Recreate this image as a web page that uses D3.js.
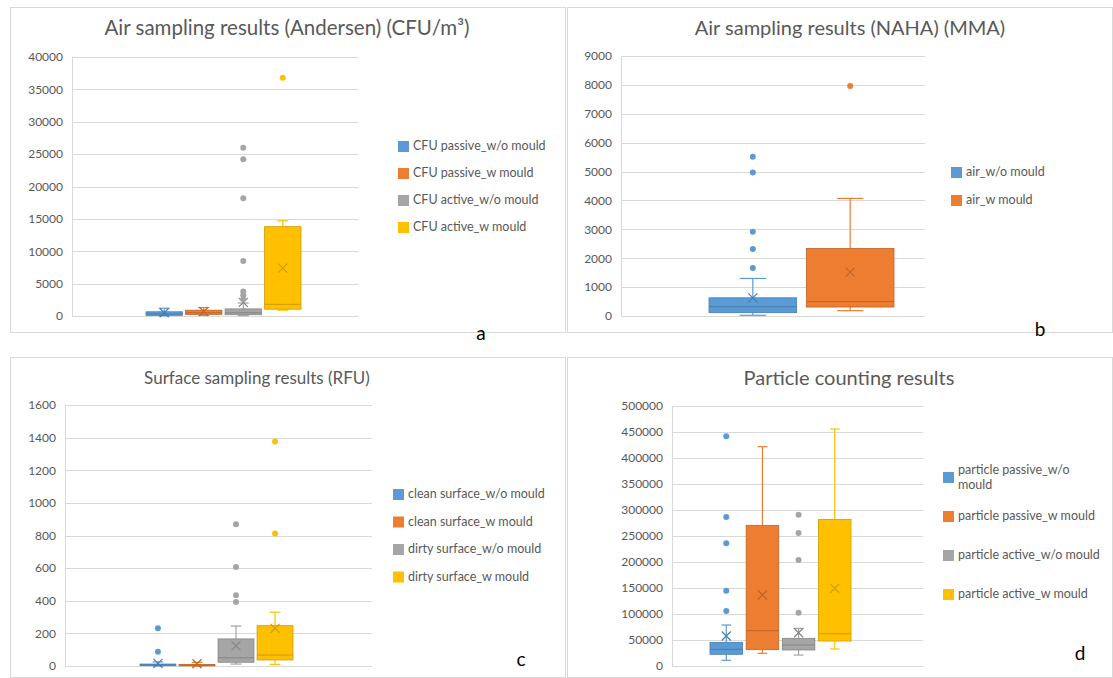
<!DOCTYPE html>
<html>
<head>
<meta charset="utf-8">
<script src="https://cdn.jsdelivr.net/npm/d3@7"></script>
<style>
  body { margin: 0; background: #fff; }
  svg { display: block; font-family: Lato, "Open Sans", sans-serif; }
</style>
</head>
<body>
<svg id="chart" width="1113" height="678"></svg>
<script>
// stats per series: [min, q1, median, q3, max, mean]

// a - Andersen
const andersenNames = ['CFU passive_w/o mould', 'CFU passive_w mould', 'CFU active_w/o mould', 'CFU active_w mould'];
const andersenStats = [
  [50, 100, 300, 650, 1200, 500],
  [100, 250, 500, 900, 1300, 700],
  [50, 200, 500, 1100, 2000, 2100],
  [900, 1050, 1800, 13800, 14700, 7400]
];
const andersenOutliers = [[], [], [2600, 3200, 3800, 8500, 18200, 24200, 26000], [36800]];
const andersenTicks = d3.range(0, 40001, 5000);

// b - NAHA
const nahaNames = ['air_w/o mould', 'air_w mould'];
const nahaStats = [
  [25, 115, 320, 630, 1300, 630],
  [185, 310, 500, 2340, 4070, 1520]
];
const nahaOutliers = [[1660, 2320, 2920, 4970, 5510], [7960]];
const nahaTicks = d3.range(0, 9001, 1000);

// c - surface
const surfaceNames = ['clean surface_w/o mould', 'clean surface_w mould', 'dirty surface_w/o mould', 'dirty surface_w mould'];
const surfaceStats = [
  [0, 2, 6, 12, 25, 16],
  [0, 2, 5, 10, 22, 14],
  [12, 23, 50, 166, 245, 123],
  [10, 37, 67, 247, 330, 231]
];
const surfaceOutliers = [[88, 231], [], [393, 434, 607, 869], [812, 1376]];
const surfaceTicks = d3.range(0, 1601, 200);

// d - particles
const particleNames = ['particle passive_w/o mould', 'particle passive_w mould', 'particle active_w/o mould', 'particle active_w mould'];
const particleStats = [
  [11000, 22500, 32000, 45500, 78800, 57700],
  [24400, 31400, 68000, 270500, 421800, 136500],
  [21000, 30800, 40400, 53200, 72400, 64000],
  [32700, 48000, 62000, 282000, 455800, 149400]
];
const particleOutliers = [[105800, 144800, 236000, 286500, 442000], [], [102600, 203800, 255800, 291000], []];
const particleTicks = d3.range(0, 500001, 50000);

const colors = ['#5B9BD5', '#ED7D31', '#A5A5A5', '#FFC000'];
const textColor = '#595959';
const gridColor = '#D9D9D9';

const svg = d3.select('#chart');

const panels = [
  {
    title: 'Air sampling results (Andersen) (CFU/m\u00B3)', letter: 'a',
    names: andersenNames, stats: andersenStats, outliers: andersenOutliers, ticks: andersenTicks,
    frame: [10, 7, 556, 326], plot: [72, 57, 358, 316], boxes: [146, 301], pad: 0.08,
    legend: {x: 398, y: 146, step: 27}, letterPos: [481, 340], titleX: 287, titleY: 35, titleSize: 20.5
  },
  {
    title: 'Air sampling results (NAHA) (MMA)', letter: 'b',
    names: nahaNames, stats: nahaStats, outliers: nahaOutliers, ticks: nahaTicks,
    frame: [567, 7, 546, 326], plot: [621, 56, 925, 316], boxes: [709, 894], pad: 0.1,
    legend: {x: 951, y: 172, step: 28}, letterPos: [1040, 336], titleX: 850, titleY: 35, titleSize: 20
  },
  {
    title: 'Surface sampling results (RFU)', letter: 'c',
    names: surfaceNames, stats: surfaceStats, outliers: surfaceOutliers, ticks: surfaceTicks,
    frame: [10, 357, 556, 321], plot: [65, 405, 372, 666], boxes: [140, 293], pad: 0.08,
    legend: {x: 393, y: 494, step: 27.5}, letterPos: [521, 666], titleX: 257, titleY: 384, titleSize: 17
  },
  {
    title: 'Particle counting results', letter: 'd',
    names: particleNames, stats: particleStats, outliers: particleOutliers, ticks: particleTicks,
    frame: [567, 357, 546, 321], plot: [672, 406, 923, 666], boxes: [710, 851], pad: 0.1,
    legend: {x: 943, y: 477, step: 39}, letterPos: [1080, 660], titleX: 849, titleY: 385, titleSize: 20
  }
];

panels.forEach(p => drawPanel(p));

function drawPanel(p) {
  const g = svg.append('g');
  const [fx, fy, fw, fh] = p.frame;
  const [px0, py0, px1, py1] = p.plot;

  g.append('rect')
    .attr('x', fx + 0.5).attr('y', fy + 0.5)
    .attr('width', fw - 1).attr('height', fh - 1)
    .attr('fill', '#fff')
    .attr('stroke', gridColor);

  g.append('text')
    .attr('x', p.titleX)
    .attr('y', p.titleY)
    .attr('text-anchor', 'middle')
    .attr('fill', textColor)
    .style('font-size', p.titleSize + 'px')
    .text(p.title);

  const yScale = d3.scaleLinear()
    .domain([0, p.ticks[p.ticks.length - 1]])
    .range([py1, py0]);

  const xScale = d3.scaleBand()
    .domain(p.names)
    .range(p.boxes)
    .paddingInner(p.pad);

  // gridlines
  g.append('g')
    .selectAll('line')
    .data(p.ticks)
    .join('line')
    .attr('x1', px0).attr('x2', px1)
    .attr('y1', d => Math.round(yScale(d)) + 0.5)
    .attr('y2', d => Math.round(yScale(d)) + 0.5)
    .attr('stroke', gridColor);

  g.append('line')
    .attr('x1', px0 + 0.5).attr('x2', px0 + 0.5)
    .attr('y1', py0).attr('y2', py1)
    .attr('stroke', gridColor);

  // y axis labels
  const yAxis = d3.axisLeft(yScale)
    .tickValues(p.ticks)
    .tickFormat(d3.format('d'))
    .tickSize(0)
    .tickPadding(9);
  const axisG = g.append('g')
    .attr('transform', `translate(${px0},0)`)
    .call(yAxis);
  axisG.select('.domain').remove();
  axisG.selectAll('text')
    .attr('fill', textColor)
    .style('font-size', '12px')
    .style('font-family', 'Lato, "Open Sans", sans-serif');

  // boxes
  const bw = xScale.bandwidth();
  p.names.forEach((name, i) => {
    const [mn, q1, med, q3, mx, mean] = p.stats[i];
    const c = colors[i];
    const dark = d3.rgb(c).darker(0.6);
    const x = xScale(name);
    const cx = x + bw / 2;
    const cap = bw * 0.3;
    const bg = g.append('g');

    bg.append('line')
      .attr('x1', cx).attr('x2', cx)
      .attr('y1', yScale(mx)).attr('y2', yScale(q3))
      .attr('stroke', c).attr('stroke-width', 1.2);
    bg.append('line')
      .attr('x1', cx).attr('x2', cx)
      .attr('y1', yScale(q1)).attr('y2', yScale(mn))
      .attr('stroke', c).attr('stroke-width', 1.2);
    [mn, mx].forEach(v => {
      bg.append('line')
        .attr('x1', cx - cap / 2).attr('x2', cx + cap / 2)
        .attr('y1', yScale(v)).attr('y2', yScale(v))
        .attr('stroke', c).attr('stroke-width', 1.2);
    });

    bg.append('rect')
      .attr('x', x)
      .attr('y', yScale(q3))
      .attr('width', bw)
      .attr('height', Math.max(1.5, yScale(q1) - yScale(q3)))
      .attr('fill', c)
      .attr('stroke', dark)
      .attr('stroke-width', 0.8);

    bg.append('line')
      .attr('x1', x).attr('x2', x + bw)
      .attr('y1', yScale(med)).attr('y2', yScale(med))
      .attr('stroke', dark).attr('stroke-width', 1);

    // mean X
    const my = yScale(mean);
    const s = 4.5;
    bg.append('path')
      .attr('d', `M${cx - s},${my - s}L${cx + s},${my + s}M${cx - s},${my + s}L${cx + s},${my - s}`)
      .attr('stroke', dark).attr('stroke-width', 1.2).attr('fill', 'none');

    bg.selectAll('circle')
      .data(p.outliers[i])
      .join('circle')
      .attr('cx', cx)
      .attr('cy', d => yScale(d))
      .attr('r', 3)
      .attr('fill', c);
  });

  // legend
  const lg = g.append('g');
  p.names.forEach((name, i) => {
    const ly = p.legend.y + i * p.legend.step;
    lg.append('rect')
      .attr('x', p.legend.x).attr('y', ly - 5)
      .attr('width', 11).attr('height', 11)
      .attr('fill', colors[i]);
    const t = lg.append('text')
      .attr('x', p.legend.x + 15)
      .attr('y', ly + 4)
      .attr('fill', textColor)
      .style('font-size', '12.5px');
    if (name === 'particle passive_w/o mould') {
      t.append('tspan').attr('x', p.legend.x + 15).attr('y', ly - 3).text('particle passive_w/o');
      t.append('tspan').attr('x', p.legend.x + 15).attr('y', ly + 12).text('mould');
    } else {
      t.text(name);
    }
  });

  g.append('text')
    .attr('x', p.letterPos[0])
    .attr('y', p.letterPos[1])
    .attr('text-anchor', 'middle')
    .attr('fill', '#000')
    .style('font-size', '19px')
    .text(p.letter);
}
</script>
</body>
</html>
